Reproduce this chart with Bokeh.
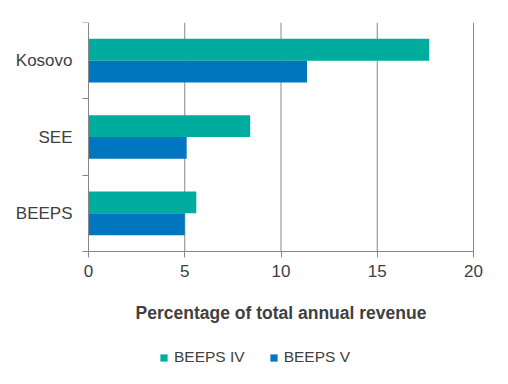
from bokeh.plotting import figure
from bokeh.models import Range1d, FixedTicker, Legend, LegendItem, ColumnDataSource
from bokeh.transform import dodge
from bokeh.embed import file_html
from bokeh.resources import INLINE

categories = ["BEEPS", "SEE", "Kosovo"]
series_names = ["BEEPS IV", "BEEPS V"]
beeps_iv = [5.6, 8.4, 17.7]
beeps_v = [5.0, 5.1, 11.35]
x_ticks = [0, 5, 10, 15, 20]
x_title = "Percentage of total annual revenue"
colors = ["#00AC9D", "#0076BF"]

FONT = "Liberation Sans"
TXT = "#404040"
GRAY = "#878787"

n = len(categories)
x_max = x_ticks[-1]
centers = [i + 0.5 for i in range(n)]
bounds = [i for i in range(n + 1)]
bar_h = 0.286

# The frame is larger than the bar area so that axis texts and the legend
# can be drawn inside it; axes are pinned at 0 with fixed_location.
bars_h_px, frame_h_px = 229, 354
bars_w_px, frame_w_px, left_px = 385, 496, 84
y_start = -(frame_h_px - bars_h_px) / (bars_h_px / n)
ppu = bars_w_px / x_max
x_start = -left_px / ppu
x_end = x_start + frame_w_px / ppu

p = figure(frame_width=frame_w_px, frame_height=frame_h_px,
           output_backend="svg", toolbar_location=None,
           x_range=Range1d(x_start, x_end), y_range=Range1d(y_start, n),
           min_border_left=4, min_border_right=4, min_border_top=22,
           min_border_bottom=0)
p.outline_line_color = None
p.xgrid.grid_line_color = None
p.ygrid.grid_line_color = None

# vertical grid lines at the x ticks, limited to the bar area
grid_x = x_ticks[1:]
p.segment(x0=grid_x, y0=[0] * len(grid_x), x1=grid_x, y1=[n] * len(grid_x),
          line_color=GRAY, line_width=1)

src = ColumnDataSource(dict(cat=categories, y=centers, iv=beeps_iv, v=beeps_v))
r1 = p.hbar(y=dodge("y", bar_h / 2), left=0, right="iv", height=bar_h,
            color=colors[0], line_color=None, source=src)
r2 = p.hbar(y=dodge("y", -bar_h / 2), left=0, right="v", height=bar_h,
            color=colors[1], line_color=None, source=src)

# x axis
xa = p.xaxis[0]
xa.fixed_location = 0
xa.bounds = (0, x_max)
xa.ticker = FixedTicker(ticks=x_ticks)
xa.axis_line_color = GRAY
xa.major_tick_line_color = GRAY
xa.major_tick_out = 6
xa.major_tick_in = 0
xa.minor_tick_line_color = None
xa.major_label_text_font = FONT
xa.major_label_text_font_size = "17px"
xa.major_label_text_color = TXT
xa.major_label_standoff = 7
xa.axis_label = x_title
xa.axis_label_text_font = FONT
xa.axis_label_text_font_size = "17.5px"
xa.axis_label_text_font_style = "bold"
xa.axis_label_text_color = TXT
xa.axis_label_standoff = 23

# y axis
ya = p.yaxis[0]
ya.fixed_location = 0
ya.bounds = (0, n)
ya.ticker = FixedTicker(ticks=centers, minor_ticks=bounds)
ya.major_label_overrides = {c: name for c, name in zip(centers, categories)}
ya.axis_line_color = GRAY
ya.major_tick_line_color = None
ya.major_tick_out = 0
ya.major_tick_in = 0
ya.minor_tick_line_color = GRAY
ya.minor_tick_out = 6
ya.minor_tick_in = 0
ya.major_label_text_font = FONT
ya.major_label_text_font_size = "17px"
ya.major_label_text_color = TXT
ya.major_label_standoff = 10

legend = Legend(items=[LegendItem(label=series_names[0], renderers=[r1]),
                       LegendItem(label=series_names[1], renderers=[r2])],
                orientation="horizontal", location=(155, 10),
                glyph_width=9, glyph_height=9, label_standoff=6, spacing=24,
                label_text_font=FONT, label_text_font_size="15.5px",
                label_text_color=TXT, border_line_color=None,
                background_fill_alpha=0, margin=0, padding=5)
p.add_layout(legend, "center")

open("out.html", "w").write(file_html(p, INLINE))
